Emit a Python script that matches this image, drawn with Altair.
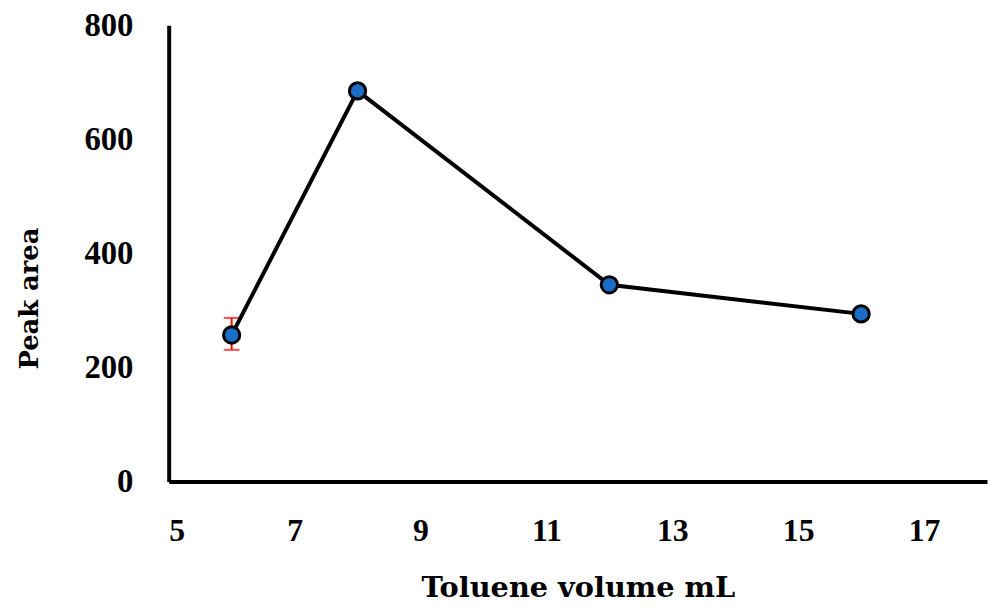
import altair as alt
import pandas as pd

volume = [6, 8, 12, 16]
peak_area = [257, 685, 345, 294]
err_x = [6]
err_lo = [231]
err_hi = [287]

df = pd.DataFrame({"x": volume, "y": peak_area})
edf = pd.DataFrame({"x": err_x, "lo": err_lo, "hi": err_hi})

xs = alt.Scale(domain=[5, 18], nice=False, zero=False)
ys = alt.Scale(domain=[0, 800], nice=False)

xaxis = alt.Axis(title="Toluene volume mL", values=[5, 7, 9, 11, 13, 15, 17],
                 ticks=False, grid=False, domainColor="black", domainWidth=4,
                 labelFont="Liberation Serif", labelFontWeight="bold", labelFontSize=32,
                 labelColor="black", labelPadding=34,
                 titleFont="DejaVu Serif", titleFontWeight="bold", titleFontSize=29,
                 titleColor="black", titlePadding=28)
yaxis = alt.Axis(title="Peak area", values=[0, 200, 400, 600, 800],
                 ticks=False, grid=False, domainColor="black", domainWidth=4,
                 labelFont="Liberation Serif", labelFontWeight="bold", labelFontSize=33,
                 labelColor="black", labelPadding=36,
                 titleFont="DejaVu Serif", titleFontWeight="bold", titleFontSize=26,
                 titleColor="black", titlePadding=42, titleY=275)

err = alt.Chart(edf).mark_errorbar(
    ticks={"size": 16, "thickness": 2, "color": "#ff0000"}, color="#ff0000", thickness=2
).encode(
    x=alt.X("x:Q", scale=xs, axis=xaxis),
    y=alt.Y("lo:Q", scale=ys, axis=yaxis),
    y2="hi:Q",
)

line = alt.Chart(df).mark_line(color="black", strokeWidth=4).encode(
    x=alt.X("x:Q", scale=xs, axis=xaxis),
    y=alt.Y("y:Q", scale=ys, axis=yaxis),
)

pts = alt.Chart(df).mark_point(
    shape="circle", filled=True, fill="#1a6ec8", stroke="black", strokeWidth=3,
    size=270, opacity=1
).encode(
    x=alt.X("x:Q", scale=xs, axis=xaxis),
    y=alt.Y("y:Q", scale=ys, axis=yaxis),
)

chart = alt.layer(err, line, pts).properties(
    width=825, height=460,
    background="white",
    autosize=alt.AutoSizeParams(type="none"),
    padding={"left": 162, "top": 15, "right": 2, "bottom": 124},
).configure_view(stroke="transparent", strokeWidth=0)

chart.save("out.html", embed_options={"renderer": "svg", "actions": False})
